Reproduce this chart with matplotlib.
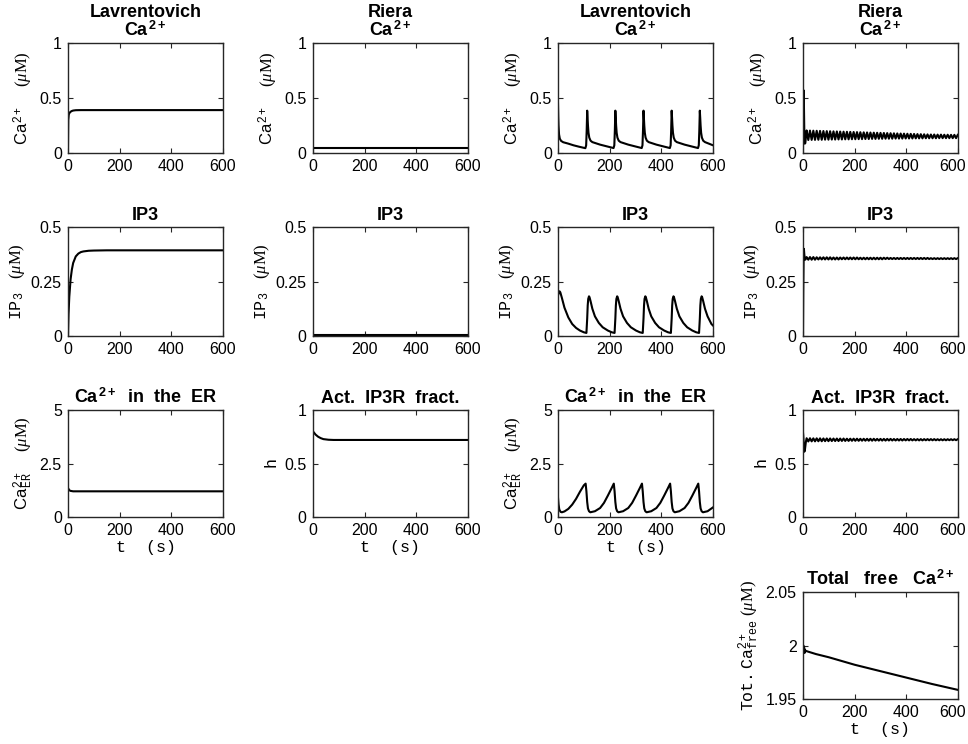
import matplotlib
matplotlib.use('Agg')
import matplotlib.pyplot as plt
import matplotlib.transforms as mtransforms
import numpy as np

plt.rcParams['font.family'] = ['Liberation Sans', 'DejaVu Sans']
plt.rcParams['mathtext.fontset'] = 'custom'
plt.rcParams['mathtext.rm'] = 'Liberation Serif'
plt.rcParams['mathtext.it'] = 'Liberation Serif:italic'
plt.rcParams['mathtext.bf'] = 'Liberation Sans:bold'
plt.rcParams['mathtext.sf'] = 'Liberation Sans'
plt.rcParams['mathtext.tt'] = 'Liberation Mono'

# ---------------- data ----------------
# Column 1: Lavrentovich (steady)
lav1_ca_t = [0, 1, 3, 6, 10, 15, 20, 30, 50, 600]
lav1_ca_v = [0.05, 0.30, 0.35, 0.365, 0.375, 0.382, 0.386, 0.389, 0.39, 0.39]
lav1_ip3_t = [0, 2, 5, 10, 15, 20, 30, 40, 50, 60, 80, 100, 150, 600]
lav1_ip3_v = [0.0, 0.10, 0.18, 0.26, 0.305, 0.335, 0.365, 0.378, 0.385, 0.388, 0.391, 0.392, 0.393, 0.393]
lav1_er_t = [0, 5, 10, 20, 600]
lav1_er_v = [1.35, 1.25, 1.22, 1.2, 1.2]

# Column 2: Riera (steady)
rie1_ca_t = [0, 600]
rie1_ca_v = [0.05, 0.05]
rie1_ip3_t = [0, 600]
rie1_ip3_v = [0.003, 0.003]
rie1_h_t = [0, 10, 20, 30, 40, 60, 80, 100, 600]
rie1_h_v = [0.80, 0.77, 0.75, 0.737, 0.728, 0.722, 0.72, 0.72, 0.72]

# Column 3: Lavrentovich (oscillating)
lav2_ca_t = [0, 1, 2, 4, 7, 12, 20, 40, 60, 80, 100, 106,
             109, 111, 113, 114.5, 116, 118, 121, 126, 133, 163, 193, 215,
             218, 220, 222, 223.5, 225, 227, 230, 235, 242, 272, 302, 324,
             327, 329, 331, 332.5, 334, 336, 339, 344, 351, 381, 411, 433,
             436, 438, 440, 441.5, 443, 445, 448, 453, 460, 490, 520, 542,
             545, 547, 549, 550.5, 552, 554, 557, 562, 569, 600]
lav2_ca_v = [0.45, 0.33, 0.25, 0.17, 0.13, 0.11, 0.098, 0.085, 0.07, 0.058, 0.047, 0.044,
             0.07, 0.2, 0.385, 0.32, 0.25, 0.185, 0.14, 0.112, 0.099, 0.076, 0.058, 0.045,
             0.07, 0.2, 0.385, 0.32, 0.25, 0.185, 0.14, 0.112, 0.099, 0.076, 0.058, 0.045,
             0.07, 0.2, 0.385, 0.32, 0.25, 0.185, 0.14, 0.112, 0.099, 0.076, 0.058, 0.045,
             0.07, 0.2, 0.385, 0.32, 0.25, 0.185, 0.14, 0.112, 0.099, 0.076, 0.058, 0.045,
             0.07, 0.2, 0.385, 0.32, 0.25, 0.185, 0.14, 0.112, 0.099, 0.07]

lav2_ip3_t = [0, 3, 6, 9, 15, 25, 40, 55, 70, 85, 100, 110,
              113, 115, 117, 120, 122, 126, 133, 143, 158, 173, 193, 208, 219,
              222, 224, 226, 229, 231, 235, 242, 252, 267, 282, 302, 317, 328,
              331, 333, 335, 338, 340, 344, 351, 361, 376, 391, 411, 426, 437,
              440, 442, 444, 447, 449, 453, 460, 470, 485, 500, 520, 535, 546,
              549, 551, 553, 556, 558, 562, 569, 579, 594, 600]
lav2_ip3_v = [0.185, 0.2, 0.205, 0.2, 0.175, 0.13, 0.085, 0.055, 0.037, 0.025, 0.017, 0.014,
              0.08, 0.14, 0.17, 0.182, 0.178, 0.16, 0.125, 0.09, 0.06, 0.04, 0.025, 0.017, 0.014,
              0.08, 0.14, 0.17, 0.182, 0.178, 0.16, 0.125, 0.09, 0.06, 0.04, 0.025, 0.017, 0.014,
              0.08, 0.14, 0.17, 0.182, 0.178, 0.16, 0.125, 0.09, 0.06, 0.04, 0.025, 0.017, 0.014,
              0.08, 0.14, 0.17, 0.182, 0.178, 0.16, 0.125, 0.09, 0.06, 0.04, 0.025, 0.017, 0.014,
              0.08, 0.14, 0.17, 0.182, 0.178, 0.16, 0.125, 0.09, 0.055, 0.048]

lav2_er_t = [0, 2, 5, 10, 15, 25, 40, 55, 70, 85, 100, 107,
             110, 113, 116, 120, 125, 143, 163, 178, 193, 208, 216,
             219, 222, 225, 229, 234, 252, 272, 287, 302, 317, 325,
             328, 331, 334, 338, 343, 361, 381, 396, 411, 426, 434,
             437, 440, 443, 447, 452, 470, 490, 505, 520, 535, 543,
             546, 549, 552, 556, 561, 579, 600]
lav2_er_v = [0.9, 0.6, 0.35, 0.24, 0.22, 0.26, 0.38, 0.58, 0.85, 1.18, 1.48, 1.56,
             1.2, 0.7, 0.4, 0.27, 0.22, 0.27, 0.42, 0.66, 1.0, 1.36, 1.56,
             1.2, 0.7, 0.4, 0.27, 0.22, 0.27, 0.42, 0.66, 1.0, 1.36, 1.56,
             1.2, 0.7, 0.4, 0.27, 0.22, 0.27, 0.42, 0.66, 1.0, 1.36, 1.56,
             1.2, 0.7, 0.4, 0.27, 0.22, 0.27, 0.42, 0.66, 1.0, 1.36, 1.56,
             1.2, 0.7, 0.4, 0.27, 0.22, 0.27, 0.45]

# Column 4: Riera (oscillating) - initial transient then peaks / troughs
rie2_start_t = [0, 1, 2.5, 3.5, 5, 7, 9, 11]
rie2_ca_start = [0.05, 0.35, 0.57, 0.45, 0.20, 0.085, 0.09, 0.14]
rie2_ip3_start = [0.0, 0.20, 0.37, 0.40, 0.375, 0.352, 0.350, 0.355]
rie2_h_start = [0.79, 0.76, 0.70, 0.65, 0.61, 0.62, 0.66, 0.70]

rie2_peak_t = [14, 27, 40, 53, 66, 79, 92, 105, 118, 131, 144, 157, 170, 183, 196,
               209, 222, 235, 248, 261, 274, 287, 300, 313, 326, 339, 352, 365, 378,
               391, 404, 417, 430, 443, 456, 469, 482, 495, 508, 521, 534, 547, 560,
               573, 586, 599]
rie2_trough_t = [20.5, 33.5, 46.5, 59.5, 72.5, 85.5, 98.5, 111.5, 124.5, 137.5, 150.5,
                 163.5, 176.5, 189.5, 202.5, 215.5, 228.5, 241.5, 254.5, 267.5, 280.5,
                 293.5, 306.5, 319.5, 332.5, 345.5, 358.5, 371.5, 384.5, 397.5, 410.5,
                 423.5, 436.5, 449.5, 462.5, 475.5, 488.5, 501.5, 514.5, 527.5, 540.5,
                 553.5, 566.5, 579.5, 592.5]
rie2_ca_peak = [0.205, 0.204, 0.203, 0.202, 0.201, 0.200, 0.199, 0.198, 0.197, 0.196,
                0.195, 0.194, 0.193, 0.192, 0.191, 0.190, 0.189, 0.188, 0.187, 0.186,
                0.185, 0.184, 0.183, 0.182, 0.181, 0.180, 0.179, 0.178, 0.177, 0.176,
                0.175, 0.174, 0.173, 0.172, 0.171, 0.170, 0.169, 0.168, 0.168, 0.167,
                0.167, 0.166, 0.166, 0.165, 0.165, 0.165]
rie2_ca_trough = [0.118, 0.119, 0.119, 0.120, 0.120, 0.121, 0.121, 0.122, 0.122, 0.123,
                  0.123, 0.124, 0.124, 0.125, 0.125, 0.126, 0.126, 0.127, 0.127, 0.128,
                  0.128, 0.129, 0.129, 0.130, 0.130, 0.130, 0.131, 0.131, 0.131, 0.132,
                  0.132, 0.132, 0.133, 0.133, 0.133, 0.134, 0.134, 0.134, 0.134, 0.135,
                  0.135, 0.135, 0.135, 0.135, 0.135]
rie2_ip3_peak = [0.362, 0.362, 0.362, 0.361, 0.361, 0.361, 0.361, 0.361, 0.360, 0.360,
                 0.360, 0.360, 0.360, 0.360, 0.360, 0.360, 0.359, 0.359, 0.359, 0.359,
                 0.359, 0.359, 0.359, 0.359, 0.359, 0.358, 0.358, 0.358, 0.358, 0.358,
                 0.358, 0.358, 0.358, 0.358, 0.358, 0.358, 0.358, 0.357, 0.357, 0.357,
                 0.357, 0.357, 0.357, 0.357, 0.357, 0.357]
rie2_ip3_trough = [0.350, 0.350, 0.350, 0.351, 0.351, 0.351, 0.351, 0.351, 0.351, 0.351,
                   0.352, 0.352, 0.352, 0.352, 0.352, 0.352, 0.352, 0.352, 0.352, 0.352,
                   0.352, 0.352, 0.352, 0.353, 0.353, 0.353, 0.353, 0.353, 0.353, 0.353,
                   0.353, 0.353, 0.353, 0.353, 0.353, 0.353, 0.353, 0.353, 0.353, 0.353,
                   0.353, 0.353, 0.353, 0.353, 0.353]
rie2_h_peak = [0.736, 0.736, 0.735, 0.735, 0.735, 0.734, 0.734, 0.734, 0.733, 0.733,
               0.733, 0.733, 0.732, 0.732, 0.732, 0.732, 0.731, 0.731, 0.731, 0.731,
               0.731, 0.730, 0.730, 0.730, 0.730, 0.730, 0.729, 0.729, 0.729, 0.729,
               0.729, 0.729, 0.728, 0.728, 0.728, 0.728, 0.728, 0.728, 0.728, 0.727,
               0.727, 0.727, 0.727, 0.727, 0.727, 0.727]
rie2_h_trough = [0.706, 0.707, 0.707, 0.708, 0.708, 0.709, 0.709, 0.710, 0.710, 0.710,
                 0.711, 0.711, 0.711, 0.712, 0.712, 0.712, 0.713, 0.713, 0.713, 0.713,
                 0.714, 0.714, 0.714, 0.714, 0.715, 0.715, 0.715, 0.715, 0.715, 0.716,
                 0.716, 0.716, 0.716, 0.716, 0.716, 0.717, 0.717, 0.717, 0.717, 0.717,
                 0.717, 0.717, 0.718, 0.718, 0.718]

rie2_tot_t = [0, 1.5, 3, 4.5, 6, 8, 10, 50, 100, 200, 300, 400, 500, 600]
rie2_tot_v = [1.996, 2.000, 1.994, 1.998, 1.993, 1.996, 1.995, 1.992, 1.989, 1.982,
              1.976, 1.970, 1.964, 1.9585]

x_ticks = [0, 200, 400, 600]


def riera_series(start_v, peak_v, trough_v):
    pts = list(zip(rie2_start_t, start_v))
    pts += list(zip(rie2_peak_t, peak_v))
    pts += list(zip(rie2_trough_t, trough_v))
    pts.sort(key=lambda p: p[0])
    return [p[0] for p in pts], [p[1] for p in pts]


rie2_ca_t, rie2_ca_v = riera_series(rie2_ca_start, rie2_ca_peak, rie2_ca_trough)
rie2_ip3_t, rie2_ip3_v = riera_series(rie2_ip3_start, rie2_ip3_peak, rie2_ip3_trough)
rie2_h_t, rie2_h_v = riera_series(rie2_h_start, rie2_h_peak, rie2_h_trough)

# ---------------- labels ----------------
UM = r'$(\mu\mathrm{M})$'
lab_ca = r'$\mathsf{Ca}^{\,\mathsf{2+}}$    ' + UM
lab_ip3 = r'$\mathtt{IP}_{\mathtt{3}}$   ' + UM
lab_er = r'$\mathsf{Ca}^{\,\mathsf{2+}}_{\,\mathtt{ER}}$    ' + UM
lab_h = r'$\mathtt{h}$'
lab_tot = r'$\mathtt{Tot.Ca}^{\mathsf{2+}}_{\mathtt{free}}$ ' + UM

t_ca_lav = 'Lavrentovich\n' + r'$\mathbf{Ca}^{\,\mathbf{2+}}$'
t_ca_rie = 'Riera\n' + r'$\mathbf{Ca}^{\,\mathbf{2+}}$'
t_ip3 = 'IP3'
t_er = r'$\mathbf{Ca}^{\,\mathbf{2+}}$  in  the  ER'
t_h = 'Act.  IP3R  fract.'
t_tot = r'Total   free   $\mathbf{Ca}^{\,\mathbf{2+}}$'

# ---------------- layout ----------------
W, H = 968, 744
fig = plt.figure(figsize=(W / 100, H / 100), dpi=100)
col_left = [68, 313, 558, 803]
ax_w = 155
rows = [(43, 153), (227, 336), (410, 517), (592, 699)]


def make_ax(col, row):
    top, bot = rows[row]
    ax = fig.add_axes([col_left[col] / W, 1 - bot / H, ax_w / W, (bot - top) / H])
    return ax


panels = [
    (0, 0, lav1_ca_t, lav1_ca_v, (0, 1), [0, 0.5, 1], ['0', '0.5', '1'], lab_ca, t_ca_lav, False),
    (1, 0, rie1_ca_t, rie1_ca_v, (0, 1), [0, 0.5, 1], ['0', '0.5', '1'], lab_ca, t_ca_rie, False),
    (2, 0, lav2_ca_t, lav2_ca_v, (0, 1), [0, 0.5, 1], ['0', '0.5', '1'], lab_ca, t_ca_lav, False),
    (3, 0, rie2_ca_t, rie2_ca_v, (0, 1), [0, 0.5, 1], ['0', '0.5', '1'], lab_ca, t_ca_rie, False),
    (0, 1, lav1_ip3_t, lav1_ip3_v, (0, 0.5), [0, 0.25, 0.5], ['0', '0.25', '0.5'], lab_ip3, t_ip3, False),
    (1, 1, rie1_ip3_t, rie1_ip3_v, (0, 0.5), [0, 0.25, 0.5], ['0', '0.25', '0.5'], lab_ip3, t_ip3, False),
    (2, 1, lav2_ip3_t, lav2_ip3_v, (0, 0.5), [0, 0.25, 0.5], ['0', '0.25', '0.5'], lab_ip3, t_ip3, False),
    (3, 1, rie2_ip3_t, rie2_ip3_v, (0, 0.5), [0, 0.25, 0.5], ['0', '0.25', '0.5'], lab_ip3, t_ip3, False),
    (0, 2, lav1_er_t, lav1_er_v, (0, 5), [0, 2.5, 5], ['0', '2.5', '5'], lab_er, t_er, True),
    (1, 2, rie1_h_t, rie1_h_v, (0, 1), [0, 0.5, 1], ['0', '0.5', '1'], lab_h, t_h, True),
    (2, 2, lav2_er_t, lav2_er_v, (0, 5), [0, 2.5, 5], ['0', '2.5', '5'], lab_er, t_er, True),
    (3, 2, rie2_h_t, rie2_h_v, (0, 1), [0, 0.5, 1], ['0', '0.5', '1'], lab_h, t_h, False),
    (3, 3, rie2_tot_t, rie2_tot_v, (1.95, 2.05), [1.95, 2, 2.05], ['1.95', '2', '2.05'], lab_tot, t_tot, True),
]

edge = '#262626'
for col, row, tx, vy, ylim, yt, ytl, ylab, title, xlab in panels:
    ax = make_ax(col, row)
    ax.plot(tx, vy, color='black', lw=1.5)
    ax.set_xlim(0, 600)
    ax.set_ylim(*ylim)
    ax.set_xticks(x_ticks)
    ax.set_xticklabels([str(v) for v in x_ticks])
    ax.set_yticks(yt)
    ax.set_yticklabels(ytl)
    ax.tick_params(direction='in', top=True, right=True, length=3.5, width=0.8,
                   labelsize=11.5, colors=edge, labelcolor='black', pad=4.5)
    for s in ax.spines.values():
        s.set_color(edge)
        s.set_linewidth(1.0)
    ax.set_ylabel(ylab, fontsize=12, labelpad=3)
    ax.set_title(title, fontsize=13, fontweight='bold', pad=5, linespacing=1.0)
    if xlab:
        ax.set_xlabel('t  (s)', fontsize=12, family='Liberation Mono', labelpad=1)
    if col == 3:
        # keep the last tick label of the right-most column inside the figure
        lbl = ax.get_xticklabels()[-1]
        shift = mtransforms.ScaledTranslation(-5 / 100, 0, fig.dpi_scale_trans)
        lbl.set_transform(lbl.get_transform() + shift)

fig.savefig('out.png', dpi=100)
